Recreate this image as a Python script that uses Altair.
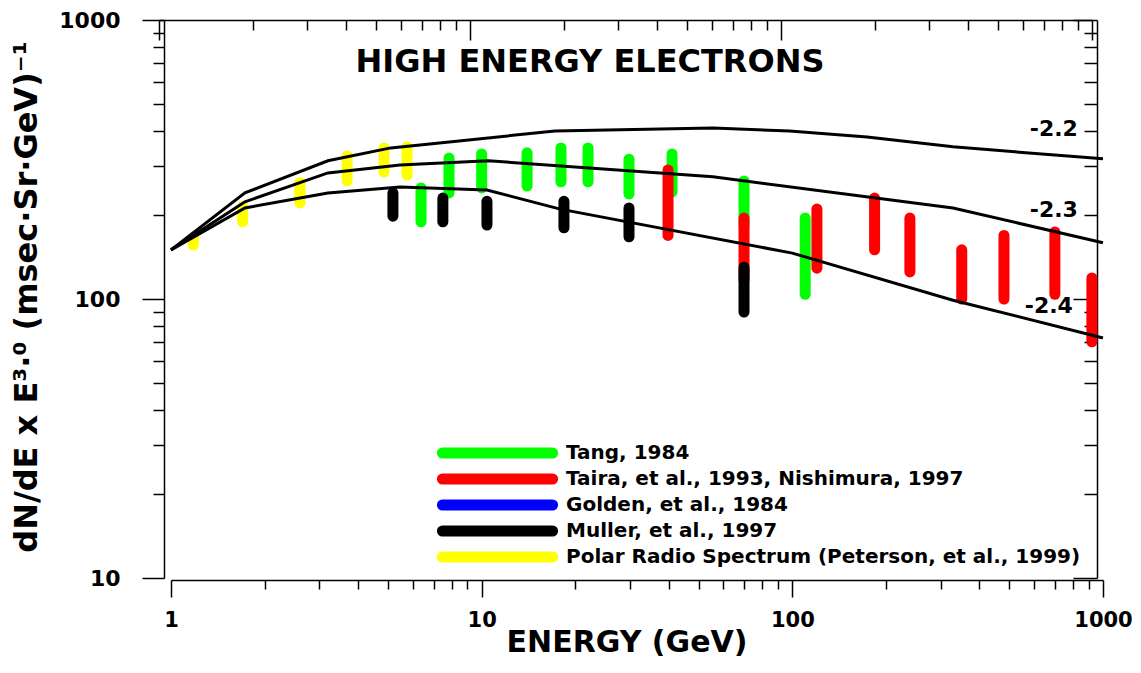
import altair as alt
import pandas as pd

# ---- model spectra (E in GeV, value = dN/dE x E^3) ----
c22_E = [1.0, 1.73, 3.2, 5.1, 17.2, 55.5, 98, 174, 329, 1000]
c22_V = [150, 240, 313, 348, 400, 410, 400, 381, 351, 318]
c23_E = [1.0, 1.73, 3.2, 5.46, 10.5, 55.5, 329, 1000]
c23_V = [150, 223, 283, 302, 313, 274, 212, 159]
c24_E = [1.0, 1.73, 3.2, 5.46, 10.4, 17.9, 100, 329, 1000]
c24_V = [150, 212, 240, 252, 246, 210, 146, 99, 72.5]

curve_names = ["-2.2", "-2.3", "-2.4"]
curve_label_E = [830, 830, 800]
curve_label_V = [384, 197, 89.1]

# ---- measurements (vertical ranges) ----
sources = [
    "Tang, 1984",
    "Taira, et al., 1993, Nishimura, 1997",
    "Golden, et al., 1984",
    "Muller, et al., 1997",
    "Polar Radio Spectrum (Peterson, et al., 1999)",
]
source_colors = ["#00ff00", "#ff0000", "#0000ff", "#000000", "#ffff00"]

tang_E = [6.38, 7.85, 10.0, 14.0, 18.0, 22.0, 29.8, 41.0, 69.9, 110]
tang_lo = [189, 240, 250, 254, 263, 263, 238, 242, 184, 104]
tang_hi = [250, 320, 331, 334, 348, 348, 317, 331, 265, 195]

taira_E = [39.8, 69.9, 120, 184, 239, 351, 480, 700, 921]
taira_lo = [169, 117, 129, 150, 125, 100, 100, 104, 70.2]
taira_hi = [290, 195, 210, 230, 195, 150, 169, 174, 119]

muller_E = [5.18, 7.5, 10.4, 18.4, 29.8, 69.9]
muller_lo = [198, 189, 184, 180, 167, 89.8]
muller_hi = [240, 230, 224, 224, 212, 130]

polar_E = [1.18, 1.70, 2.60, 3.69, 4.85, 5.75]
polar_lo = [156, 189, 221, 265, 285, 278]
polar_hi = [166, 214, 261, 326, 348, 351]

# ---- axes ----
x_ticks = [1, 2, 3, 4, 5, 6, 7, 8, 9, 10, 20, 30, 40, 50, 60, 70, 80, 90,
           100, 200, 300, 400, 500, 600, 700, 800, 900, 1000]
y_ticks = [10, 20, 30, 40, 50, 60, 70, 80, 90, 100, 200, 300, 400, 500, 600,
           700, 800, 900, 1000]
x_major = [1, 10, 100, 1000]
y_major = [10, 100, 1000]

plot_title = "HIGH ENERGY ELECTRONS"
x_title = "ENERGY (GeV)"
y_title = "dN/dE x E\u00b3\u00b7\u2070 (msec\u00b7Sr\u00b7GeV)\u207b\u00b9"

FONT = "DejaVu Sans"
W, H = 932, 558

# ---- tables ----
curves = pd.concat([
    pd.DataFrame({"curve": curve_names[0], "E": c22_E, "V": c22_V}),
    pd.DataFrame({"curve": curve_names[1], "E": c23_E, "V": c23_V}),
    pd.DataFrame({"curve": curve_names[2], "E": c24_E, "V": c24_V}),
], ignore_index=True)

bars = pd.concat([
    pd.DataFrame({"source": sources[0], "E": tang_E, "lo": tang_lo, "hi": tang_hi}),
    pd.DataFrame({"source": sources[1], "E": taira_E, "lo": taira_lo, "hi": taira_hi}),
    pd.DataFrame({"source": sources[3], "E": muller_E, "lo": muller_lo, "hi": muller_hi}),
    pd.DataFrame({"source": sources[4], "E": polar_E, "lo": polar_lo, "hi": polar_hi}),
], ignore_index=True)

labels_df = pd.DataFrame({"name": curve_names, "E": curve_label_E, "V": curve_label_V})


def xs():
    return alt.Scale(type="log", domain=[1, 1000], nice=False)


ys = alt.Scale(type="log", domain=[10, 1000], nice=False)


def is_major(vals):
    return "indexof([" + ",".join(str(v) for v in vals) + "], datum.value) >= 0"


def tick_size(vals, major, minor):
    return {"condition": {"test": is_major(vals), "value": major}, "value": minor}


def label_expr(vals):
    return "(" + is_major(vals) + ") ? format(datum.value, 'd') : ''"


line_style = dict(domainColor="black", domainWidth=1.5, tickColor="black",
                  tickWidth=1.5, grid=False, title=None)
label_style = dict(labelFont=FONT, labelFontWeight="bold", labelColor="black",
                   labelOverlap=False, labelFlush=False)

x_axis = alt.Axis(orient="bottom", offset=2, values=x_ticks,
                  tickSize=tick_size(x_major, 17, 9), labelExpr=label_expr(x_major),
                  labelPadding=12, labelFontSize=21, **line_style, **label_style)
y_axis = alt.Axis(orient="left", offset=7, values=y_ticks,
                  tickSize=tick_size(y_major, 22, 11), labelExpr=label_expr(y_major),
                  labelPadding=22, labelFontSize=22, **line_style, **label_style)
top_axis = alt.Axis(orient="bottom", offset=-H, values=x_ticks,
                    tickSize=tick_size(x_major, 20, 10), labels=False, **line_style)
right_axis = alt.Axis(orient="left", offset=-(W - 6), values=y_ticks,
                      tickSize=tick_size(y_major, 24, 13), labels=False, **line_style)

capsule = ("M-0.9,-0.01L0.9,-0.01A0.01,0.01,0,0,1,0.9,0.01"
           "L-0.9,0.01A0.01,0.01,0,0,1,-0.9,-0.01Z")

legend = alt.Legend(title=None, orient="none", legendX=260, legendY=422,
                    symbolType=capsule, symbolSize=14938, symbolStrokeWidth=10,
                    clipHeight=22, rowPadding=4, padding=0, labelOffset=2,
                    labelFont=FONT, labelFontSize=20, labelFontWeight="bold",
                    labelColor="black", labelLimit=0, symbolOpacity=1)

rules = alt.Chart(bars).mark_rule(strokeWidth=11, strokeCap="round", opacity=1).encode(
    x=alt.X("E:Q", scale=xs(), axis=None),
    y=alt.Y("lo:Q", scale=ys, axis=None),
    y2="hi:Q",
    color=alt.Color("source:N", scale=alt.Scale(domain=sources, range=source_colors),
                    legend=legend),
)

lines = alt.Chart(curves).mark_line(color="black", strokeWidth=3).encode(
    x=alt.X("E:Q", scale=xs(), axis=x_axis),
    y=alt.Y("V:Q", scale=ys, axis=y_axis),
    detail="curve:N",
)

curve_text = alt.Chart(labels_df).mark_text(
    align="right", baseline="alphabetic", font=FONT, fontWeight="bold",
    fontSize=22, color="black").encode(
    x=alt.X("E:Q", scale=xs(), axis=None),
    y=alt.Y("V:Q", scale=ys, axis=None),
    text="name:N",
)

title_text = alt.Chart(pd.DataFrame({"t": [plot_title]})).mark_text(
    align="center", baseline="alphabetic", font=FONT, fontWeight="bold",
    fontSize=32, color="black").encode(x=alt.value(419), y=alt.value(52), text="t:N")

xtitle_text = alt.Chart(pd.DataFrame({"t": [x_title]})).mark_text(
    align="center", baseline="alphabetic", font=FONT, fontWeight="bold",
    fontSize=30, color="black").encode(x=alt.value(456), y=alt.value(632), text="t:N")

ytitle_text = alt.Chart(pd.DataFrame({"t": [y_title]})).mark_text(
    align="center", baseline="alphabetic", angle=270, font=FONT, fontWeight="bold",
    fontSize=32, color="black").encode(x=alt.value(-134), y=alt.value(277), text="t:N")

frame = alt.Chart(curves).mark_point(opacity=0).encode(
    x=alt.X("E:Q", scale=alt.Scale(type="log", domain=[1, 1000], range=[-12, W - 11],
                                   nice=False), axis=top_axis),
    y=alt.Y("V:Q", scale=ys, axis=right_axis),
)

chart = alt.layer(
    rules, lines, curve_text, title_text, xtitle_text, ytitle_text, frame
).resolve_scale(x="independent").resolve_axis(
    x="independent", y="independent").properties(
    width=W, height=H,
    autosize=alt.AutoSizeParams(type="none"),
    padding={"left": 163, "top": 12, "right": 30, "bottom": 83},
).configure_view(strokeWidth=0)

chart.save("out.html", embed_options={"renderer": "svg", "actions": False})
